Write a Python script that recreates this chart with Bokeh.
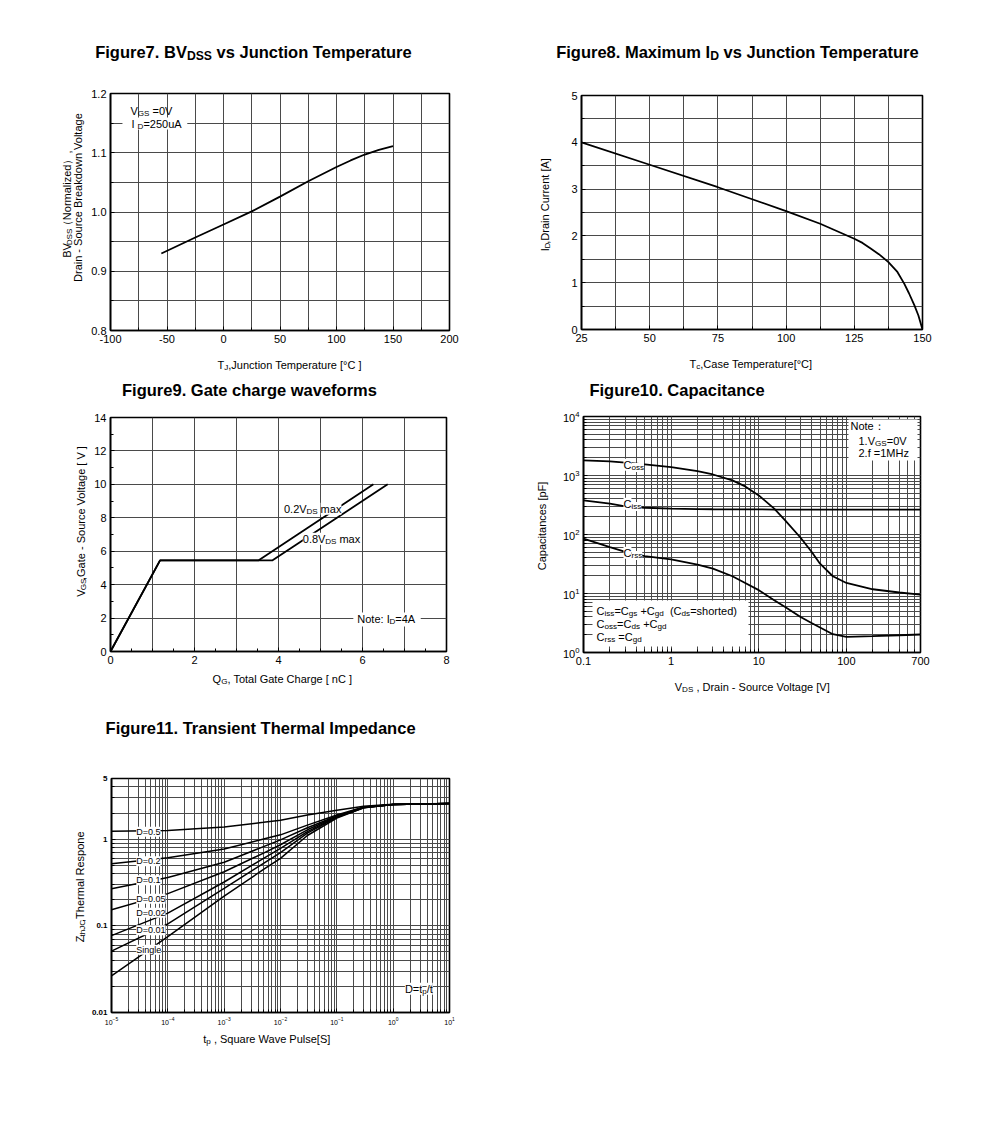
import math
from bokeh.plotting import figure
from bokeh.models import (Label, FixedTicker, Range1d, PrintfTickFormatter,
                          BoxAnnotation, LogTickFormatter)
from bokeh.layouts import column, row
from bokeh.embed import file_html
from bokeh.resources import INLINE

# ---------------------------------------------------------------- data
# Figure 7 : BVdss vs junction temperature
bv_temp = [-55, -25, 0, 25, 50, 75, 100, 112.5, 125, 137.5, 150]
bv_norm = [0.930, 0.957, 0.979, 1.001, 1.026, 1.052, 1.076, 1.087, 1.097, 1.105, 1.111]
bv_xticks = [-100, -50, 0, 50, 100, 150, 200]
bv_yticks = [0.8, 0.9, 1.0, 1.1, 1.2]

# Figure 8 : maximum Id vs case temperature
id_temp = [25, 50, 75, 100, 112.5, 125, 128, 131, 134, 137.5, 140.8, 143.3, 145, 147, 148.5, 150]
id_current = [4.0, 3.52, 3.04, 2.53, 2.26, 1.94, 1.85, 1.73, 1.61, 1.44, 1.23, 0.98, 0.78, 0.52, 0.30, 0.0]
id_xticks = [25, 50, 75, 100, 125, 150]
id_yticks = [0, 1, 2, 3, 4, 5]

# Figure 9 : gate charge
qg_02 = [0, 1.18, 3.52, 6.26]
vgs_02 = [0, 5.45, 5.45, 10]
qg_08 = [0, 1.18, 3.85, 6.6]
vgs_08 = [0, 5.45, 5.45, 10]
qg_xticks = [0, 2, 4, 6, 8]
qg_yticks = [0, 2, 4, 6, 8, 10, 12, 14]

# Figure 10 : capacitance
vds = [0.1, 0.2, 0.3, 0.5, 1, 2, 3, 5, 7, 10, 15, 20, 30, 40, 50, 70, 100, 200, 400, 700]
c_oss = [1800, 1730, 1650, 1540, 1390, 1190, 1040, 826, 653, 460, 274, 174, 88, 51, 32, 19.6, 15.1, 11.8, 10.4, 9.6]
c_iss = [380, 333, 300, 284, 274, 270, 268, 267, 266, 266, 265, 265, 265, 265, 265, 264, 264, 264, 263, 263]
c_rss = [85, 61, 50.6, 43, 38, 30.9, 26.4, 19.6, 15.1, 11.4, 7.7, 5.9, 4.0, 3.16, 2.65, 2.04, 1.84, 1.89, 1.96, 2.02]
cap_xticks = [0.1, 1, 10, 100, 700]
cap_yticks = [1, 10, 100, 1000, 10000]

# Figure 11 : transient thermal impedance
tp = [1e-5, 1e-4, 1e-3, 5e-3, 1e-2, 3e-2, 1e-1, 3e-1, 1, 10]
zth_d05 = [1.23, 1.26, 1.38, 1.56, 1.65, 1.90, 2.15, 2.40, 2.52, 2.57]
zth_d02 = [0.52, 0.61, 0.77, 1.00, 1.12, 1.45, 1.90, 2.35, 2.50, 2.57]
zth_d01 = [0.267, 0.36, 0.54, 0.82, 0.98, 1.35, 1.85, 2.33, 2.50, 2.57]
zth_d005 = [0.153, 0.235, 0.42, 0.69, 0.86, 1.28, 1.82, 2.32, 2.50, 2.57]
zth_d002 = [0.077, 0.14, 0.32, 0.60, 0.78, 1.22, 1.80, 2.31, 2.50, 2.57]
zth_d001 = [0.051, 0.105, 0.27, 0.525, 0.70, 1.17, 1.78, 2.30, 2.50, 2.57]
zth_single = [0.0265, 0.075, 0.22, 0.447, 0.60, 1.10, 1.75, 2.30, 2.50, 2.57]
zth_series = [zth_d05, zth_d02, zth_d01, zth_d005, zth_d002, zth_d001, zth_single]
zth_names = ["D=0.5", "D=0.2", "D=0.1", "D=0.05", "D=0.02", "D=0.01", "Single"]
zth_xticks = [1e-5, 1e-4, 1e-3, 1e-2, 1e-1, 1, 10]
zth_yticks = [0.01, 0.1, 1, 5]

# ---------------------------------------------------------------- helpers
FONT = "Liberation Sans"
GRID = "#4a4a4a"

REG = dict(zip(" !\"#$%&'()*+,-./", [278, 278, 355, 556, 556, 889, 667, 191, 333, 333, 389, 584, 278, 333, 278, 278]))
REG.update({d: 556 for d in "0123456789"})
REG.update({":": 278, ";": 278, "<": 584, "=": 584, ">": 584, "?": 556, "[": 278, "]": 278,
            "°": 400, "（": 1000, "）": 1000, "：": 1000, "_": 556})
REG.update(dict(zip("ABCDEFGHIJKLMNOPQRSTUVWXYZ",
                    [667, 667, 722, 722, 667, 611, 778, 722, 278, 500, 667, 556, 833, 722, 778, 667, 778, 722, 667, 611, 722, 667, 944, 667, 667, 611])))
REG.update(dict(zip("abcdefghijklmnopqrstuvwxyz",
                    [556, 556, 500, 556, 556, 278, 556, 556, 222, 222, 500, 222, 833, 556, 556, 556, 556, 333, 500, 278, 556, 500, 722, 500, 500, 500])))
BOLD = {" ": 278, "!": 333, ",": 278, "-": 333, ".": 278, "/": 278, ":": 333, "=": 584,
        "(": 333, ")": 333, "[": 333, "]": 333}
BOLD.update({d: 556 for d in "0123456789"})
BOLD.update(dict(zip("ABCDEFGHIJKLMNOPQRSTUVWXYZ",
                     [722, 722, 722, 722, 667, 611, 778, 722, 278, 556, 722, 611, 833, 722, 778, 667, 778, 722, 667, 611, 722, 667, 944, 667, 667, 611])))
BOLD.update(dict(zip("abcdefghijklmnopqrstuvwxyz",
                     [556, 611, 556, 611, 556, 333, 611, 611, 278, 278, 556, 278, 889, 611, 611, 611, 611, 389, 556, 333, 611, 556, 778, 556, 556, 500])))


def tw(s, size, bold=False):
    t = BOLD if bold else REG
    return sum(t.get(c, 556) for c in s) * size / 1000.0


def N(t):
    return (t, False)


def S(t):
    return (t, True)


class Canvas:
    """A figure plus a mapping page-pixel -> data coordinates."""

    def dx(self, px):
        return px

    def dy(self, py):
        return py

    def box(self, x0, y0, x1, y1):
        self.p.add_layout(BoxAnnotation(left=self.dx(x0), right=self.dx(x1),
                                        top=self.dy(y0), bottom=self.dy(y1),
                                        fill_color="white", fill_alpha=1.0,
                                        line_color=None, level="annotation"))

    def rich(self, px, py, parts, size=11, bold=False, rotated=False, align="left", bg=None):
        """(px, py) = start of the baseline of the main text, in page pixels."""
        sub = size * 0.74
        widths = [tw(t, sub if s else size, bold) for t, s in parts]
        total = sum(widths)
        off = 0.0 if align == "left" else (-total / 2 if align == "center" else -total)
        for (t, s), w in zip(parts, widths):
            fs = sub if s else size
            lead = len(t) - len(t.lstrip(" "))
            txt = t.strip(" ")
            o = off + lead * tw(" ", fs, bold)
            # distance from the main baseline to the middle of this piece
            mid = -0.35 * fs + (size * 0.16 if s else 0.0)
            if rotated:
                x, y = px + mid, py - o
            else:
                x, y = px + o, py + mid
            if txt:
                self.p.add_layout(Label(
                    x=self.dx(x), y=self.dy(y), text=txt, text_font=FONT,
                    text_font_size="%.1fpx" % fs, text_font_style="bold" if bold else "normal",
                    text_color="black", text_align="left", text_baseline="middle",
                    angle=math.pi / 2 if rotated else 0.0,
                    background_fill_color=bg))
            off += w


class Strip(Canvas):
    """Axis-less figure whose data coordinates are page pixels."""

    def __init__(self, x0, y0, x1, y1):
        p = figure(width=x1 - x0, height=y1 - y0, x_range=Range1d(x0, x1), y_range=Range1d(y1, y0),
                   output_backend="svg", toolbar_location=None, min_border=0,
                   x_axis_location=None, y_axis_location=None)
        p.outline_line_color = None
        p.grid.visible = False
        p.background_fill_color = "white"
        p.border_fill_color = "white"
        self.p = p


class Panel(Canvas):
    def __init__(self, frame, box, xr, yr, xlog=False, ylog=False):
        self.x0, self.y0, self.x1, self.y1 = frame
        bx0, by0, bx1, by1 = box
        self.xr, self.yr, self.xlog, self.ylog = xr, yr, xlog, ylog
        self.p = figure(width=bx1 - bx0, height=by1 - by0, x_range=Range1d(*xr), y_range=Range1d(*yr),
                        x_axis_type="log" if xlog else "linear",
                        y_axis_type="log" if ylog else "linear",
                        output_backend="svg", toolbar_location=None,
                        min_border_left=self.x0 - bx0, min_border_right=bx1 - self.x1,
                        min_border_top=self.y0 - by0, min_border_bottom=by1 - self.y1)
        p = self.p
        p.outline_line_color = "black"
        p.outline_line_width = 1.6
        p.background_fill_color = "white"
        p.border_fill_color = "white"
        for ax in (p.xaxis, p.yaxis):
            ax.axis_line_color = "black"
            ax.axis_line_width = 1.6
            ax.major_tick_in = 4
            ax.major_tick_out = 0
            ax.minor_tick_in = 3
            ax.minor_tick_out = 0
            ax.major_tick_line_color = "black"
            ax.minor_tick_line_color = "black"
            ax.major_label_text_font = FONT
            ax.major_label_text_font_size = "11px"
            ax.major_label_text_color = "black"
            ax.major_label_standoff = 4
        for g in (p.xgrid, p.ygrid):
            g.grid_line_color = GRID
            g.grid_line_width = 1
            g.minor_grid_line_color = GRID
            g.minor_grid_line_width = 1

    def dx(self, px):
        t = (px - self.x0) / (self.x1 - self.x0)
        a, b = self.xr
        if self.xlog:
            return 10 ** (math.log10(a) + t * (math.log10(b) - math.log10(a)))
        return a + t * (b - a)

    def dy(self, py):
        t = (self.y1 - py) / (self.y1 - self.y0)
        a, b = self.yr
        if self.ylog:
            return 10 ** (math.log10(a) + t * (math.log10(b) - math.log10(a)))
        return a + t * (b - a)


def log_minor(lo, hi):
    out = []
    e = math.floor(math.log10(lo))
    while 10 ** e <= hi:
        for k in range(1, 10):
            v = k * 10 ** e
            if lo <= v <= hi * 1.0001:
                out.append(v)
        e += 1
    return out


def make_cell(x0, x1, ylab_x, rows, frame, xr, yr, xlog=False, ylog=False):
    """rows = (top, title_end, plot_end, bottom) in page pixels."""
    r0, r1, r2, r3 = rows
    title = Strip(x0, r0, x1, r1)
    ylab = Strip(x0, r1, ylab_x, r2)
    panel = Panel(frame, (ylab_x, r1, x1, r2), xr, yr, xlog, ylog)
    xlab = Strip(x0, r2, x1, r3)
    lay = column(title.p, row(ylab.p, panel.p), xlab.p)
    return title, ylab, panel, xlab, lay


ROW1 = (0, 72, 352, 375)
ROW2 = (375, 405, 671, 700)
ROW3 = (700, 760, 1030, 1065)
TITLE = 16.5

# ---------------------------------------------------------------- Figure 7
t7, y7, f7, x7, cell7 = make_cell(0, 490, 88, ROW1, (109, 93, 449, 330), (-100, 200), (0.8, 1.2))
p7 = f7.p
p7.xaxis.ticker = FixedTicker(ticks=bv_xticks, minor_ticks=[v + 25 for v in bv_xticks[:-1]])
p7.xaxis.formatter = PrintfTickFormatter(format="%d")
p7.yaxis.ticker = FixedTicker(ticks=bv_yticks, minor_ticks=[round(v + 0.05, 2) for v in bv_yticks[:-1]])
p7.yaxis.formatter = PrintfTickFormatter(format="%.1f")
p7.line(bv_temp, bv_norm, line_color="black", line_width=1.8)
t7.rich(253.5, 57.5, [N("Figure7. BV"), S("DSS"), N(" vs Junction Temperature")], size=TITLE, bold=True, align="center")
f7.box(121, 117, 186, 129)
f7.rich(129, 114, [N("V"), S("GS"), N(" =0V")])
f7.rich(130, 127, [N("I "), S("D"), N("=250uA")])
y7.rich(70.5, 210, [N("BV"), S("DSS"), N("（Normalized）,")], rotated=True, align="center")
y7.rich(81, 210, [N("Drain - Source Breakdown Voltage")], rotated=True, align="center")
x7.rich(217, 368, [N("T"), S("J"), N(",Junction Temperature [°C ]")])

# ---------------------------------------------------------------- Figure 8
t8, y8, f8, x8, cell8 = make_cell(490, 980, 558, ROW1, (581, 95, 922, 329), (25, 150), (0, 5))
p8 = f8.p
p8.xaxis.ticker = FixedTicker(ticks=id_xticks, minor_ticks=[v + 12.5 for v in id_xticks[:-1]])
p8.yaxis.ticker = FixedTicker(ticks=id_yticks, minor_ticks=[v + 0.5 for v in id_yticks[:-1]])
p8.line(id_temp, id_current, line_color="black", line_width=1.8)
t8.rich(737.5, 57.5, [N("Figure8. Maximum I"), S("D"), N(" vs Junction Temperature")], size=TITLE, bold=True, align="center")
y8.rich(548, 211, [N("I"), S("D"), N(",Drain Current [A]")], rotated=True, align="center")
x8.rich(751, 367, [N("T"), S("c"), N(",Case Temperature[°C]")], align="center")

# ---------------------------------------------------------------- Figure 9
t9, y9, f9, x9, cell9 = make_cell(0, 490, 91, ROW2, (107, 417, 446, 651), (0, 8), (0, 14))
p9 = f9.p
p9.xaxis.ticker = FixedTicker(ticks=qg_xticks, minor_ticks=[i * 0.5 for i in range(1, 16) if i % 4 != 0])
p9.yaxis.ticker = FixedTicker(ticks=qg_yticks, minor_ticks=[v + 1 for v in qg_yticks[:-1]])
p9.xgrid.ticker = FixedTicker(ticks=list(range(1, 8)))
p9.ygrid.ticker = FixedTicker(ticks=qg_yticks[1:-1])
p9.xgrid.minor_grid_line_color = None
p9.ygrid.minor_grid_line_color = None
p9.line(qg_08, vgs_08, line_color="black", line_width=1.8)
p9.line(qg_02, vgs_02, line_color="black", line_width=1.8)
t9.rich(249, 395, [N("Figure9. Gate charge waveforms")], size=TITLE, bold=True, align="center")
f9.rich(282, 512, [N("0.2V"), S("DS"), N(" max")], bg="white")
f9.rich(301, 542, [N("0.8V"), S("DS"), N(" max")], bg="white")
f9.box(352, 612, 420, 626)
f9.rich(356, 622, [N("Note: I"), S("D"), N("=4A")])
y9.rich(84, 532, [N("V"), S("GS"), N(",Gate - Source Voltage [ V ]")], rotated=True, align="center")
x9.rich(282.5, 682, [N("Q"), S("G"), N(", Total Gate Charge [ nC ]")], align="center")

# ---------------------------------------------------------------- Figure 10
t10, y10, f10, x10, cell10 = make_cell(490, 980, 558, ROW2, (583, 416, 920, 652), (0.1, 700), (1, 10000),
                                       xlog=True, ylog=True)
p10 = f10.p
p10.xaxis.ticker = FixedTicker(ticks=cap_xticks, minor_ticks=log_minor(0.1, 700))
p10.xaxis.formatter = PrintfTickFormatter(format="%g")
p10.yaxis.ticker = FixedTicker(ticks=cap_yticks, minor_ticks=log_minor(1, 10000))
p10.yaxis.formatter = LogTickFormatter()
p10.line(vds, c_oss, line_color="black", line_width=1.8)
p10.line(vds, c_iss, line_color="black", line_width=1.8)
p10.line(vds, c_rss, line_color="black", line_width=1.8)
t10.rich(676.5, 395, [N("Figure10. Capacitance")], size=TITLE, bold=True, align="center")
f10.rich(623, 468, [N("C"), S("oss")], bg="white")
f10.rich(623, 507, [N("C"), S("iss")], bg="white")
f10.rich(623, 556, [N("C"), S("rss")], bg="white")
f10.box(848, 419, 917, 460)
f10.rich(850, 429, [N("Note：")])
f10.rich(858, 444, [N("1.V"), S("GS"), N("=0V")])
f10.rich(858, 456, [N("2.f =1MHz")])
f10.box(592, 600, 748, 646)
f10.rich(596, 614, [N("C"), S("iss"), N("=C"), S("gs"), N(" +C"), S("gd"), N("  (C"), S("ds"), N("=shorted)")])
f10.rich(596, 627, [N("C"), S("oss"), N("=C"), S("ds"), N(" +C"), S("gd")])
f10.rich(596, 640, [N("C"), S("rss"), N(" =C"), S("gd")])
y10.rich(545, 534, [N("Capacitances [pF]")], rotated=True, align="center")
x10.rich(752, 690, [N("V"), S("DS"), N(" , Drain - Source Voltage [V]")], align="center")

# ---------------------------------------------------------------- Figure 11
t11, y11, f11, x11, cell11 = make_cell(0, 490, 88, ROW3, (108, 778, 449, 1012), (1e-5, 10), (0.01, 5),
                                       xlog=True, ylog=True)
p11 = f11.p
p11.xaxis.ticker = FixedTicker(ticks=zth_xticks, minor_ticks=log_minor(1e-5, 10))
p11.xaxis.formatter = LogTickFormatter()
p11.xaxis.major_label_text_font_size = "7px"
p11.yaxis.ticker = FixedTicker(ticks=zth_yticks, minor_ticks=log_minor(0.01, 5))
p11.yaxis.formatter = PrintfTickFormatter(format="%g")
p11.yaxis.major_label_text_font_size = "8px"
p11.yaxis.major_label_text_font_style = "bold"
for ser in zth_series:
    p11.line(tp, ser, line_color="black", line_width=1.5)
t11.rich(261, 733, [N("Figure11. Transient Thermal Impedance")], size=TITLE, bold=True, align="center")
label_y = [834.3, 863.8, 882.8, 901.3, 915.3, 932.8, 952.3]
for name, ly in zip(zth_names, label_y):
    f11.rich(133, ly, [N(name)], size=9, bg="white")
f11.rich(404, 992, [N("D=t"), S("p"), N("/t")], bg="white")
y11.rich(83, 892, [N("Z"), S("thJC"), N(",Thermal Respone")], rotated=True, align="center")
x11.rich(268, 1042, [N("t"), S("p"), N(" ,  Square Wave Pulse[S]")], align="center")

layout = column(row(cell7, cell8), row(cell9, cell10), row(cell11))
open("out.html", "w").write(file_html(layout, INLINE))
